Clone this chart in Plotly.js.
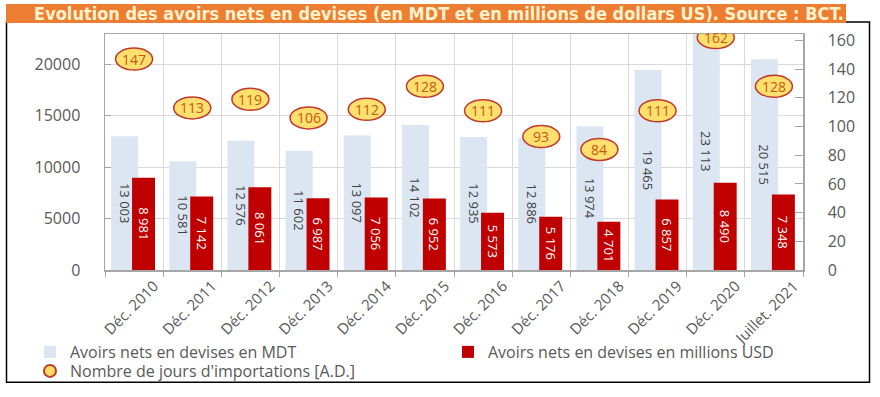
<!DOCTYPE html>
<html><head><meta charset="utf-8">
<script src="https://cdn.plot.ly/plotly-3.0.1.min.js"></script>
<style>html,body{margin:0;padding:0;background:#fff}#chart{width:880px;height:397px}</style>
</head><body><div id="chart"></div>
<script>
const categories = ['Déc. 2010','Déc. 2011','Déc. 2012','Déc. 2013','Déc. 2014','Déc. 2015','Déc. 2016','Déc. 2017','Déc. 2018','Déc. 2019','Déc. 2020','Juillet. 2021'];
const avoirsMDT = [13003,10581,12576,11602,13097,14102,12935,12886,13974,19465,23113,20515];
const avoirsUSD = [8981,7142,8061,6987,7056,6952,5573,5176,4701,6857,8490,7348];
const joursImport = [147,113,119,106,112,128,111,93,84,111,162,128];
const leftTicks = [0,5000,10000,15000,20000];
const rightTicks = [0,20,40,60,80,100,120,140,160];
const seriesNames = ['Avoirs nets en devises en MDT','Avoirs nets en devises en millions USD',"Nombre de jours d'importations [A.D.]"];
const titleText = 'Evolution des avoirs nets en devises (en MDT et en millions de dollars US). Source : BCT.';

// geometry (pixels)
const W = 880, H = 397, L = 105, R = 803, T = 34, B = 270.5;
const px = v => (v - L) / (R - L);
const py = v => (B - v) / (B - T);
const FONT = '"Open Sans", "Noto Sans", sans-serif';
const GREY = '#595959';

const traces = [
  {type:'bar', x:categories, y:avoirsMDT, name:seriesNames[0], legend:'legend',
   marker:{color:'#DCE6F2'}, offset:-0.395, width:0.465,
   texttemplate:'%{y:,.0f}', textposition:'inside', insidetextanchor:'middle', textangle:90,
   constraintext:'none', textfont:{color:'#404040', size:13, family:FONT}, hoverinfo:'y'},
  {type:'bar', x:categories, y:avoirsUSD, name:seriesNames[1], legend:'legend2',
   marker:{color:'#C00000'}, offset:-0.035, width:0.395,
   texttemplate:'%{y:,.0f}', textposition:'inside', insidetextanchor:'middle', textangle:90,
   constraintext:'none', textfont:{color:'#FFFFFF', size:13, family:FONT}, hoverinfo:'y'},
  {type:'scatter', mode:'markers', x:categories, y:joursImport, yaxis:'y2', name:seriesNames[2], legend:'legend3',
   marker:{size:16, color:'#FFDB66', line:{color:'#C0392B', width:2}}, hoverinfo:'y'}
];

const shapes = [
  {type:'rect', xref:'paper', yref:'paper', x0:px(6.5), x1:px(869.5), y0:py(383), y1:py(22),
   line:{color:'#000', width:1.5}, fillcolor:'rgba(0,0,0,0)', layer:'below'},
  {type:'rect', xref:'paper', yref:'paper', x0:px(6), x1:px(846), y0:py(23), y1:py(4),
   line:{width:0}, fillcolor:'#ED7D31', layer:'below'}
];
const annotations = [];
joursImport.forEach((v, i) => {
  shapes.push({type:'circle', xref:'x', yref:'y2', xsizemode:'pixel', ysizemode:'pixel',
    xanchor:i, yanchor:v, x0:-18.5, x1:18.5, y0:-11, y1:11,
    fillcolor:'#FFDF6E', line:{color:'#C0392B', width:1.5}, layer:'above'});
  annotations.push({x:categories[i], y:v, xref:'x', yref:'y2', text:String(v), showarrow:false,
    font:{family:FONT, size:14, color:'#C55A11'}});
});

const legendBase = {orientation:'v', xref:'container', yref:'container', xanchor:'left', yanchor:'top',
  font:{size:16, color:GREY}, itemsizing:'constant', bgcolor:'rgba(0,0,0,0)', traceorder:'normal',
  tracegroupgap:0, borderwidth:0};

const layout = {
  width:W, height:H, margin:{l:L, r:W-R, t:T, b:H-B, pad:0, autoexpand:false},
  paper_bgcolor:'#fff', plot_bgcolor:'#fff',
  font:{family:FONT, color:GREY},
  separators:', ',
  barmode:'overlay',
  showlegend:true,
  title:{text:titleText, font:{family:'"DejaVu Sans Condensed", sans-serif', size:18, color:'#FFF2CC', weight:'bold'},
    xref:'container', x:439/W, xanchor:'center', yref:'container', y:1-13.5/H, yanchor:'middle'},
  xaxis:{type:'category', range:[-0.5, 11.5], tickangle:-45, tickfont:{size:15, color:GREY},
    ticklabelshift:20,
    showline:true, linecolor:'#A6A6A6', linewidth:1.5, mirror:true,
    showgrid:true, gridcolor:'#D9D9D9', tickson:'boundaries', ticks:'outside', ticklen:5, tickcolor:'#A6A6A6'},
  yaxis:{range:[0, 22960], tickvals:leftTicks, tickformat:'d', showgrid:true, gridcolor:'#D9D9D9',
    showline:true, linecolor:'#A6A6A6', linewidth:1.5, ticks:'inside', ticklen:6, tickcolor:'#A6A6A6',
    zeroline:false, tickfont:{size:16, color:GREY}, ticklabelstandoff:20},
  yaxis2:{overlaying:'y', side:'right', range:[0, 164.5], tickvals:rightTicks, showgrid:false,
    showline:true, linecolor:'#A6A6A6', linewidth:1.5, ticks:'inside', ticklen:8, tickcolor:'#A6A6A6',
    zeroline:false, tickfont:{size:16, color:GREY}, ticklabelstandoff:20},
  legend:Object.assign({}, legendBase, {x:30/W, y:1-335/H}),
  legend2:Object.assign({}, legendBase, {x:448/W, y:1-335/H}),
  legend3:Object.assign({}, legendBase, {x:30/W, y:1-354/H}),
  shapes:shapes, annotations:annotations
};

Plotly.newPlot('chart', traces, layout, {displayModeBar:false, staticPlot:true});
</script>
</body></html>
